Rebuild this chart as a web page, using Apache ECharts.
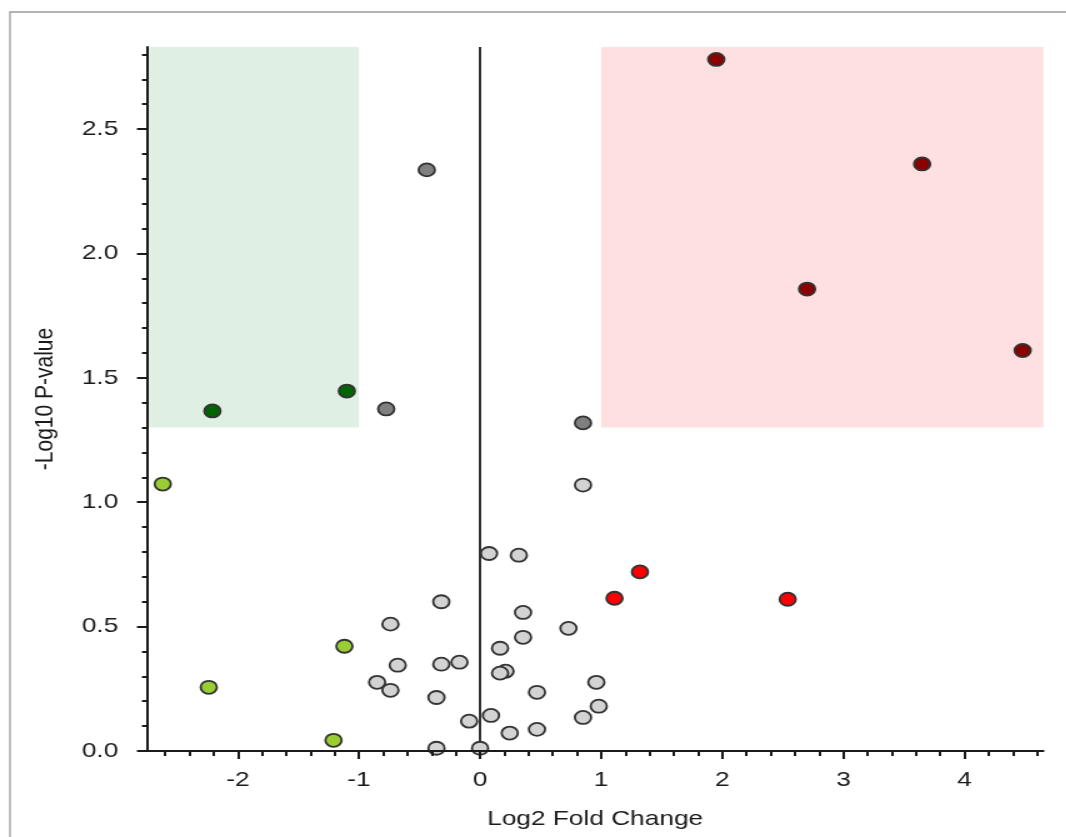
<!DOCTYPE html>
<html>
<head>
<meta charset="utf-8">
<script src="https://cdn.jsdelivr.net/npm/echarts@6/dist/echarts.min.js"></script>
<style>
    html, body { margin: 0; padding: 0; background: #fff; overflow: hidden; }
    /* the reference plot is stretched sideways, so draw narrow and widen it */
    #volcano { width: 853px; height: 837px; transform: scaleX(1.25); transform-origin: 0 0; }
</style>
</head>
<body>
<div id="volcano"></div>
<script>
// log2 fold change / -log10 p-value pairs, grouped by colour class
let upStrong = [[1.95, 2.78], [3.65, 2.36], [2.70, 1.857], [4.48, 1.61]];
let upWeak = [[1.32, 0.72], [1.11, 0.614], [2.54, 0.61]];
let downStrong = [[-2.21, 1.367], [-1.10, 1.447]];
let downWeak = [[-2.62, 1.073], [-2.24, 0.256], [-1.12, 0.421], [-1.21, 0.043]];
let sigNoChange = [[-0.44, 2.336], [-0.775, 1.375], [0.85, 1.319]];
let notSig = [
    [0.85, 1.069], [0.074, 0.794], [0.32, 0.787], [-0.32, 0.60], [-0.74, 0.51],
    [0.355, 0.557], [0.73, 0.493], [0.355, 0.457], [0.165, 0.413], [-0.68, 0.345],
    [-0.32, 0.349], [-0.17, 0.357], [0.21, 0.321], [0.165, 0.313], [-0.85, 0.276],
    [-0.74, 0.244], [0.96, 0.276], [0.47, 0.236], [-0.36, 0.215], [0.98, 0.18],
    [0.85, 0.135], [0.09, 0.143], [-0.09, 0.12], [0.47, 0.087], [0.245, 0.072],
    [-0.36, 0.011], [0.0, 0.011]
];

let xRange = [-2.75, 4.65];
let yRange = [0, 2.83];
let xTicks = [-2, -1, 0, 1, 2, 3, 4];
let xMinorTicks = [-2.6, -2.4, -2.2, -1.8, -1.6, -1.4, -1.2, -0.8, -0.6, -0.4, -0.2,
    0.2, 0.4, 0.6, 0.8, 1.2, 1.4, 1.6, 1.8, 2.2, 2.4, 2.6, 2.8, 3.2, 3.4, 3.6, 3.8,
    4.2, 4.4, 4.6];
let yTicks = [0, 0.5, 1.0, 1.5, 2.0, 2.5];
let yMinorTicks = [0.1, 0.2, 0.3, 0.4, 0.6, 0.7, 0.8, 0.9, 1.1, 1.2, 1.3, 1.4,
    1.6, 1.7, 1.8, 1.9, 2.1, 2.2, 2.3, 2.4, 2.6, 2.7, 2.8];
let fcCut = 1;     // |log2 FC| threshold
let pCut = 1.3;    // -log10 p threshold

let c_axis = '#1a1a1a';
let font = '"Liberation Sans", Arial, sans-serif';
let txt = { fontSize: 21, color: c_axis, fontFamily: font };
let tickLine = { color: c_axis, width: 2 };

let chart = echarts.init(document.getElementById('volcano'));

let majorX = {
    type: 'value', min: xRange[0], max: xRange[1], position: 'bottom', z: 10,
    name: 'Log2 Fold Change', nameLocation: 'middle', nameGap: 58,
    nameTextStyle: txt,
    axisLine: { onZero: false, lineStyle: tickLine },
    axisTick: { customValues: xTicks, length: 8, lineStyle: tickLine },
    axisLabel: Object.assign({ customValues: xTicks, margin: 19 }, txt),
    splitLine: { show: false }
};
let minorX = {
    type: 'value', min: xRange[0], max: xRange[1], position: 'bottom', z: 10,
    axisLine: { show: false, onZero: false },
    axisTick: { customValues: xMinorTicks, length: 5, lineStyle: tickLine },
    axisLabel: { show: false },
    splitLine: { show: false }
};
let majorY = {
    type: 'value', min: yRange[0], max: yRange[1], position: 'left', z: 10,
    name: '-Log10 P-value', nameLocation: 'middle', nameGap: 71,
    nameTextStyle: txt,
    axisLine: { onZero: false, lineStyle: tickLine },
    axisTick: { customValues: yTicks, length: 8, lineStyle: tickLine },
    axisLabel: Object.assign({ customValues: yTicks, margin: 23, formatter: v => v.toFixed(1) }, txt),
    splitLine: { show: false }
};
let minorY = {
    type: 'value', min: yRange[0], max: yRange[1], position: 'left', z: 10,
    axisLine: { show: false, onZero: false },
    axisTick: { customValues: yMinorTicks, length: 4, lineStyle: tickLine },
    axisLabel: { show: false },
    splitLine: { show: false }
};

let seri_dot = {
    type: 'scatter',
    symbol: 'circle',
    symbolSize: 13,
    itemStyle: { borderColor: '#333', borderWidth: 1.8, opacity: 1 },
    z: 5
};

chart.setOption({
    animation: false,
    backgroundColor: '#fff',
    graphic: [{
        // page frame: only the top and left edges fall inside the picture
        type: 'rect',
        shape: { x: 8, y: 12, width: 1400, height: 1200 },
        style: { fill: 'none', stroke: '#9a9a9a', lineWidth: 1.3 },
        silent: true
    }],
    grid: { left: 117.6, right: 18.4, top: 47, bottom: 86 },
    xAxis: [majorX, minorX],
    yAxis: [majorY, minorY],
    series: [
        {
            name: 'regions', type: 'scatter', data: [], silent: true,
            markArea: {
                silent: true,
                data: [
                    [{ coord: [xRange[0], pCut], itemStyle: { color: '#e0efe3' } }, { coord: [-fcCut, yRange[1]] }],
                    [{ coord: [fcCut, pCut], itemStyle: { color: '#fee0e1' } }, { coord: [xRange[1], yRange[1]] }]
                ]
            },
            markLine: {
                silent: true, symbol: ['none', 'none'], label: { show: false },
                lineStyle: { color: c_axis, width: 1.8, type: 'solid' },
                data: [{ xAxis: 0 }]
            }
        },
        { name: 'notSig', data: notSig, itemStyle: { color: '#d3d3d3' } },
        { name: 'sigNoChange', data: sigNoChange, itemStyle: { color: '#808080' } },
        { name: 'downWeak', data: downWeak, itemStyle: { color: '#9acd32' } },
        { name: 'downStrong', data: downStrong, itemStyle: { color: '#006400' } },
        { name: 'upWeak', data: upWeak, itemStyle: { color: '#ff0000' } },
        { name: 'upStrong', data: upStrong, itemStyle: { color: '#8b0000' } }
    ].map((item, i) => i === 0 ? item : echarts.util.merge(echarts.util.clone(seri_dot), item, true))
});
</script>
</body>
</html>
